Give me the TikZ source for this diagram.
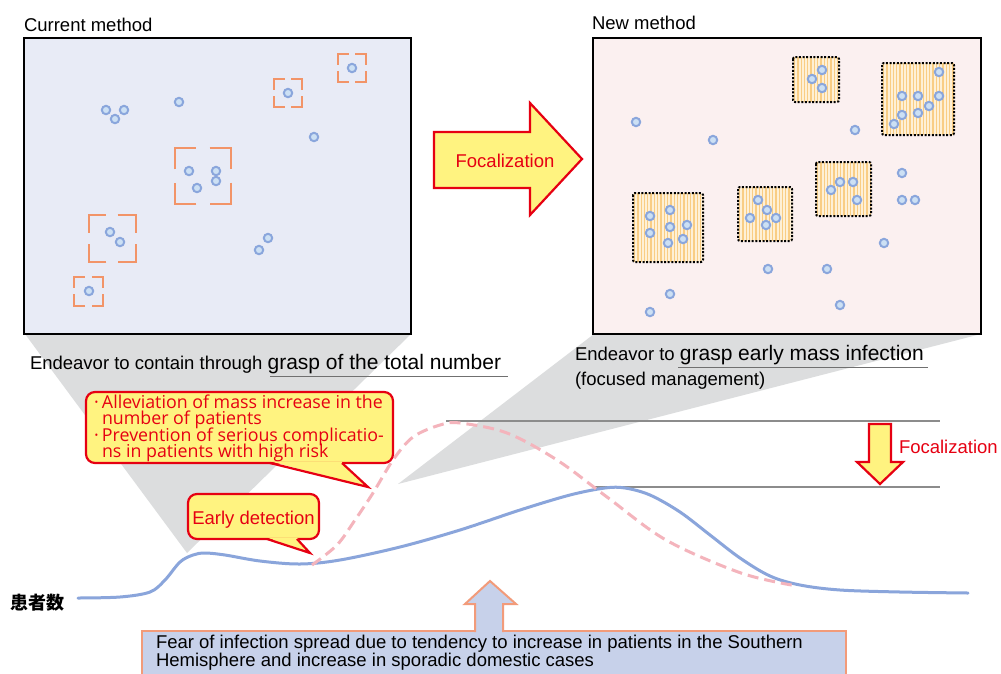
\documentclass[tikz,border=0pt]{standalone}
\usepackage{fontspec}
\setmainfont{Liberation Sans}
\newfontfamily\bubblefont{Open Sans}
\newfontfamily\cjkfont{Noto Sans CJK JP}
\definecolor{lbox}{HTML}{E8EBF6}
\definecolor{rbox}{HTML}{FBF0F0}
\definecolor{wedgegray}{HTML}{DCDDDE}
\definecolor{dotring}{HTML}{8AA6DC}
\definecolor{dotin}{HTML}{CCE0F4}
\definecolor{brkorange}{HTML}{F29468}
\definecolor{hatchbgc}{HTML}{FEF0D6}
\definecolor{hatchlnc}{HTML}{F9CD84}
\definecolor{bluecurve}{HTML}{8AA5DB}
\definecolor{pinkcurve}{HTML}{F4B4BC}
\definecolor{yel}{HTML}{FFF380}
\definecolor{redc}{HTML}{E60012}
\definecolor{lowbox}{HTML}{C7D1EA}
\definecolor{salmon}{HTML}{F29B7A}
\definecolor{guide}{HTML}{8C8C8C}
\newcommand\cornerbox[3]{%
  \pgfmathsetmacro\ba{0.76*#3}%
  \draw[brkline] (#1-#3,#2-#3+\ba) -- (#1-#3,#2-#3) -- (#1-#3+\ba,#2-#3);
  \draw[brkline] (#1+#3-\ba,#2-#3) -- (#1+#3,#2-#3) -- (#1+#3,#2-#3+\ba);
  \draw[brkline] (#1+#3,#2+#3-\ba) -- (#1+#3,#2+#3) -- (#1+#3-\ba,#2+#3);
  \draw[brkline] (#1-#3+\ba,#2+#3) -- (#1-#3,#2+#3) -- (#1-#3,#2+#3-\ba);}
\newcommand\hatchbox[4]{%
  \fill[hatchbgc, rounded corners=2pt] (#1,#2) rectangle (#3,#4);
  \begin{scope}
    \clip (#1,#2) rectangle (#3,#4);
    \foreach \i in {0,...,22} \draw[hatchln] ({#1+1.6+\i*3.3},#2) -- ({#1+1.6+\i*3.3},#4);
  \end{scope}
  \draw[dotbd] (#1,#2) rectangle (#3,#4);}
\begin{document}
\begin{tikzpicture}[x=1pt,y=-1pt,
  every node/.style={inner sep=0pt, outer sep=0pt},
  lab/.style={font=\fontsize{18.5}{22}\selectfont, anchor=base west},
  redlab/.style={font=\fontsize{18.5}{22}\selectfont, text=redc},
  btxt/.style={font=\bubblefont\fontsize{17.8}{16}\selectfont, text=redc, anchor=base west},
  wedge/.style={fill=wedgegray},
  panel/.style={draw=black, line width=2.4pt},
  dotst/.style={draw=dotring, fill=dotin, line width=2pt},
  brkline/.style={draw=brkorange, line width=2pt},
  hatchln/.style={draw=hatchlnc, line width=1.3pt},
  dotbd/.style={draw=black, line width=2pt, dash pattern=on 2pt off 1.6pt, rounded corners=2pt},
  bubble/.style={draw=redc, fill=yel, line width=2.2pt, rounded corners=9pt},
  tailfill/.style={fill=yel},
  tailline/.style={draw=redc, line width=2.2pt, line join=miter},
  yarrow/.style={draw=redc, fill=yel, line width=2.2pt, line join=miter},
  barrow/.style={draw=salmon, line width=2pt, line join=miter},
  guideln/.style={draw=guide, line width=1.2pt},
  uline/.style={draw=guide!80!black, line width=1pt},
  blueln/.style={draw=bluecurve, line width=3pt, line cap=round},
  pinkln/.style={draw=pinkcurve, line width=3pt, dash pattern=on 11pt off 6pt}
]
\useasboundingbox (0,0) rectangle (1001,673);
\fill[white] (0,0) rectangle (1001,673);

% wedges
\fill[wedge] (25,334) -- (411,334) -- (187,553) -- cycle;
\fill[wedge] (594,334) -- (981,334) -- (398,484) -- cycle;

% titles
\node[lab] (curtitle) at (24,31) {Current method};
\node[lab] (newtitle) at (592,29) {New method};

% panels
\draw[panel, fill=lbox] (24,38) rectangle (411,334);
\draw[panel, fill=rbox] (593,38) rectangle (981,334);

% left panel brackets
\cornerbox{352}{68}{14}
\cornerbox{288}{93}{14}
\cornerbox{203}{176}{28}
\cornerbox{112}{238.5}{23.5}
\cornerbox{88.5}{291}{14.5}
% left dots
\foreach \p/\q in {106/110,124/110,115/119,179/102,288/93,352/68,314/137,189/171,216/171,216/181,197/188,110/232,120/242,268/238,259/250,89/291}
  \draw[dotst] (\p,\q) circle[radius=4.2pt];

% right panel hatched groups
\hatchbox{793}{57}{839}{102}
\hatchbox{882}{63}{954}{135}
\hatchbox{816}{162}{871}{216}
\hatchbox{738}{187}{792}{241}
\hatchbox{633}{193}{703}{262}
\foreach \p/\q in {822/70,812/79,822/88,
  939/72,902/96,918/96,939/96,929/106,902/115,918/113,894/124,
  831/190,840/182,853/182,857/200,
  758/200,767/210,776/218,750/218,766/225,
  650/216,670/210,670/227,687/225,650/233,668/243,683/239,
  636/122,713/140,855/130,902/173,902/200,915/200,884/243,768/269,827/269,840/305,670/294,650/312}
  \draw[dotst] (\p,\q) circle[radius=4.2pt];

% Focalization big arrow
\draw[yarrow] (434,132) -- (530,132) -- (530,103) -- (582,159) -- (530,215) -- (530,188) -- (434,188) -- cycle;
\node[redlab, anchor=base] (focal) at (505,167) {Focalization};

% captions
\node[lab] (capleft) at (30,369) {Endeavor to contain through {\fontsize{21}{24}\selectfont grasp of the total number}};
\draw[uline] (270,376) -- (508,376);
\node[lab] (capright) at (575,360) {Endeavor to {\fontsize{21}{24}\selectfont grasp early mass infection}};
\draw[uline] (678,367) -- (928,367);
\node[lab] (caprighttwo) at (575,385) {(focused management)};

% guide lines
\draw[guideln] (446,421) -- (940,421);
\draw[guideln] (594,487) -- (940,487);

% down arrow
\draw[yarrow] (869,424) -- (891,424) -- (891,462) -- (903,462) -- (880,484) -- (857,462) -- (869,462) -- cycle;
\node[redlab, anchor=base west] (focaltwo) at (899,453) {Focalization};

% curves
\draw[blueln] plot[smooth, tension=0.55] coordinates {(78,598) (120,597) (150,592) (165,580) (180,562) (193,555) (205,553) (225,555) (260,561) (300,564) (340,560) (400,547) (460,530) (520,510) (570,495) (605,488) (625,488) (650,495) (680,512) (710,535) (740,558) (770,576) (800,585) (840,590) (900,592) (968,593)};
\draw[pinkln] plot[smooth, tension=0.55] coordinates {(312,565) (337,545) (355,520) (373,493) (393,460) (413,437) (440,425) (460,423) (507,433) (557,460) (607,497) (666,540) (741,573) (797,586)};

% bubble 1
\draw[bubble] (86,392) rectangle (393,463);
\fill[tailfill] (271,461.5) -- (368,487) -- (341,461.5) -- cycle;
\draw[tailline] (270,463) -- (368,487) -- (342,463);
\node[btxt] (b1a) at (94,408) {\makebox[8pt][l]{·}Alleviation of mass increase in the};
\node[btxt] (b1b) at (94,424) {\hspace{8pt}number of patients};
\node[btxt] (b1c) at (94,441) {\makebox[8pt][l]{·}Prevention of serious complicatio-};
\node[btxt] (b1d) at (94,457) {\hspace{8pt}ns in patients with high risk};

% bubble 2
\draw[bubble] (188,494) rectangle (319,539);
\fill[tailfill] (267,537.5) -- (310,553) -- (297,537.5) -- cycle;
\draw[tailline] (267,539) -- (310,553) -- (297,539);
\node[redlab, anchor=base] (early) at (253.5,524) {Early detection};

% y label
\node[font=\cjkfont\bfseries\fontsize{18}{20}\selectfont, anchor=base west] (ylab) at (10,609) {患者数};

% bottom box and arrow
\draw[barrow, fill=lowbox] (142,631) rectangle (846,690);
\fill[lowbox] (476,633) -- (476,604) -- (465,604) -- (490,581) -- (516,604) -- (502,604) -- (502,633) -- cycle;
\draw[barrow] (475,632) -- (475,604) -- (465,604) -- (490,581) -- (516,604) -- (503,604) -- (503,632);
\node[lab] (fear1) at (156,648) {Fear of infection spread due to tendency to increase in patients in the Southern};
\node[lab] (fear2) at (156,666) {Hemisphere and increase in sporadic domestic cases};
\end{tikzpicture}
\end{document}
